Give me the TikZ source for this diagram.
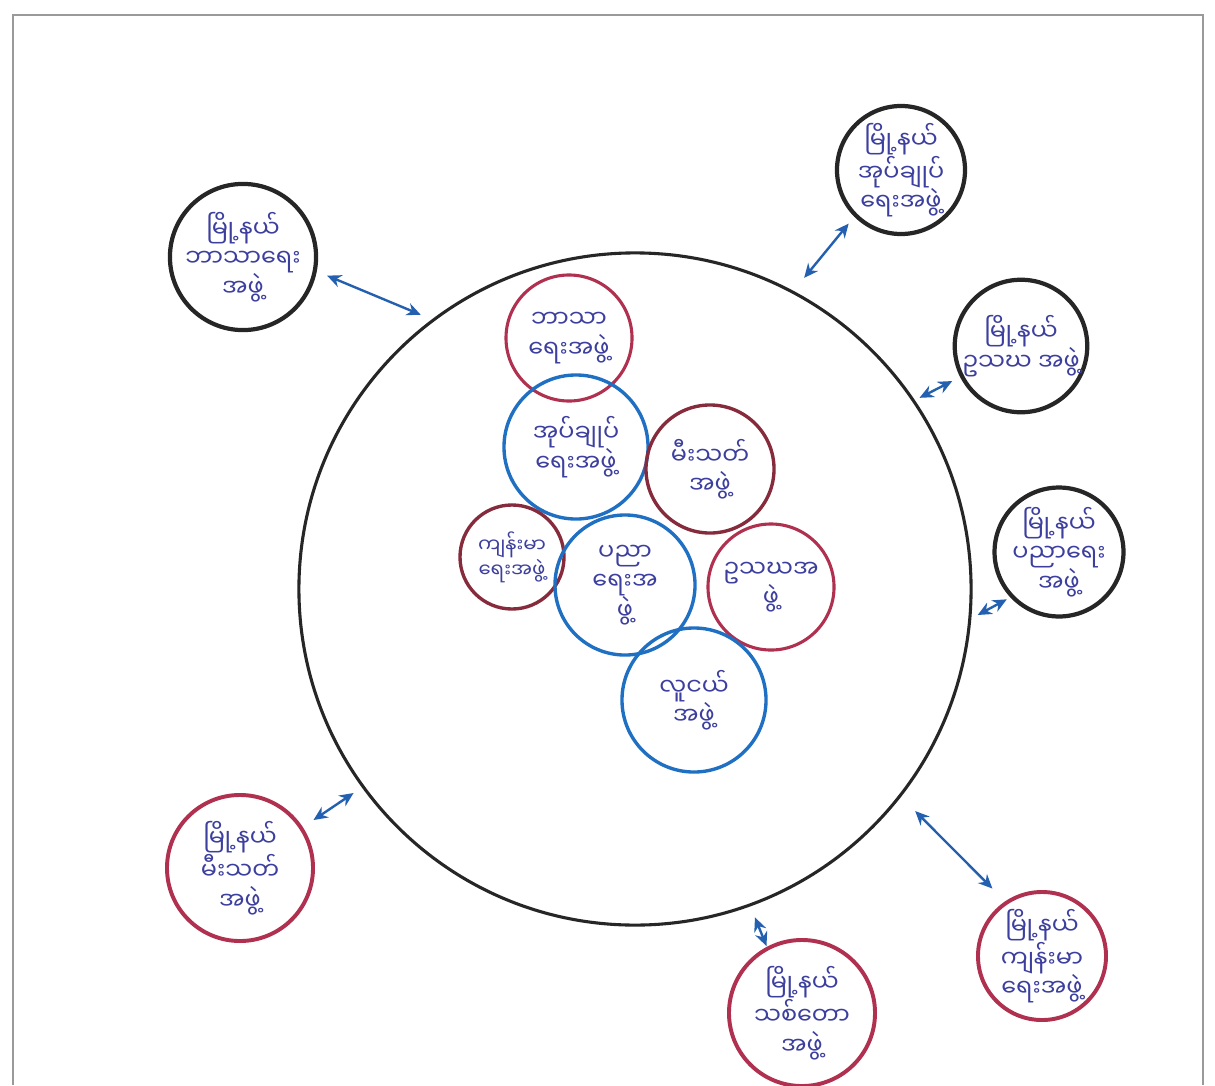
\documentclass[tikz,border=0pt]{standalone}
\usepackage{fontspec}
\newfontfamily\mm[Script=Myanmar]{Noto Sans Myanmar UI}
\usetikzlibrary{arrows.meta}
\definecolor{inkblue}{HTML}{3C3F9E}
\definecolor{penblue}{HTML}{1F6FC2}
\definecolor{penred}{HTML}{B0304F}
\definecolor{pendark}{HTML}{862B3C}
\definecolor{arrblue}{HTML}{2460B0}
\definecolor{framegray}{HTML}{9A9A9A}
\tikzset{
  ring/.style={circle, inner sep=0pt, align=center, text=inkblue, font=\mm\fontsize{17}{21}\selectfont},
  outerblack/.style={ring, draw=black!85, line width=3pt},
  outerred/.style={ring, draw=penred, line width=2.8pt},
  innerblue/.style={ring, draw=penblue, line width=2.4pt},
  innerred/.style={ring, draw=penred, line width=2.2pt},
  innerdark/.style={ring, draw=pendark, line width=2.4pt},
  bigring/.style={circle, draw=black!85, line width=2.2pt, inner sep=0pt, minimum size=16.8cm},
  arr/.style={arrblue, line width=1.7pt, {Stealth[length=10pt,width=9pt]}-{Stealth[length=10pt,width=9pt]}}
}
\begin{document}
\begin{tikzpicture}[x=0.025cm,y=-0.025cm]
\useasboundingbox (0,0) rectangle (1215,1085);
\fill[white] (0,0) rectangle (1215,1085);
\draw[framegray, line width=1.4pt] (13,1085) -- (13,15) -- (1203,15) -- (1203,1085);

% big circle
\node[bigring] (big) at (635,589) {};

% inner circles
\node[innerred,  minimum size=3.15cm] (rel)  at (569,338) {ဘာသာ\\ရေးအဖွဲ့};
\node[innerblue, minimum size=3.6cm]  (adm)  at (576,447) {အုပ်ချုပ်\\ရေးအဖွဲ့};
\node[innerdark, minimum size=3.2cm]  (fire) at (710,469) {မီးသတ်\\အဖွဲ့};
\node[innerdark, minimum size=2.6cm, font=\mm\fontsize{14}{18}\selectfont] (hlt) at (512,557) {ကျန်းမာ\\ရေးအဖွဲ့};
\node[innerblue, minimum size=3.5cm]  (edu)  at (625,585) {ပညာ\\ရေးအ\\ဖွဲ့};
\node[innerred,  minimum size=3.15cm] (usg)  at (771,587) {ဥသဃအ\\ဖွဲ့};
\node[innerblue, minimum size=3.6cm]  (yth)  at (694,700) {လူငယ်\\အဖွဲ့};

% outer circles
\node[outerblack, minimum size=3.25cm] (oTL) at (243,257) {မြို့နယ်\\ဘာသာရေး\\အဖွဲ့};
\node[outerblack, minimum size=3.2cm]  (oTR) at (901,170) {မြို့နယ်\\အုပ်ချုပ်\\ရေးအဖွဲ့};
\node[outerblack, minimum size=3.2cm]  (oR1) at (1021,346) {မြို့နယ်\\ဥသဃ အဖွဲ့};
\node[outerblack, minimum size=3.15cm] (oR2) at (1059,552) {မြို့နယ်\\ပညာရေး\\အဖွဲ့};
\node[outerred,   minimum size=3.65cm] (oBL) at (240,868) {မြို့နယ်\\မီးသတ်\\အဖွဲ့};
\node[outerred,   minimum size=3.2cm]  (oBR) at (1042,956) {မြို့နယ်\\ကျန်းမာ\\ရေးအဖွဲ့};
\node[outerred,   minimum size=3.65cm] (oB)  at (802,1013) {မြို့နယ်\\သစ်တော\\အဖွဲ့};

% connectors
\draw[arr, shorten <=0.28cm, shorten >=0.3cm]  (oTL.-11)  -- (big.127);
\draw[arr, shorten <=0.22cm, shorten >=0.42cm] (oTR.225.6) -- (big.62.7);
\draw[arr, shorten <=0.22cm, shorten >=0.13cm] (oR1.207.6) -- (big.34);
\draw[arr, shorten <=0.1cm,  shorten >=0.18cm] (oR2.223)  -- (big.-5.2);
\draw[arr, shorten <=0.32cm, shorten >=0.25cm] (oBL.33.7) -- (big.216);
\draw[arr, shorten <=0.45cm, shorten >=0.5cm]  (oBR.124)  -- (big.-38.8);
\draw[arr, shorten <=0.02cm, shorten >=0.3cm]  (oB.118.4) -- (big.-70.7);
\end{tikzpicture}
\end{document}
